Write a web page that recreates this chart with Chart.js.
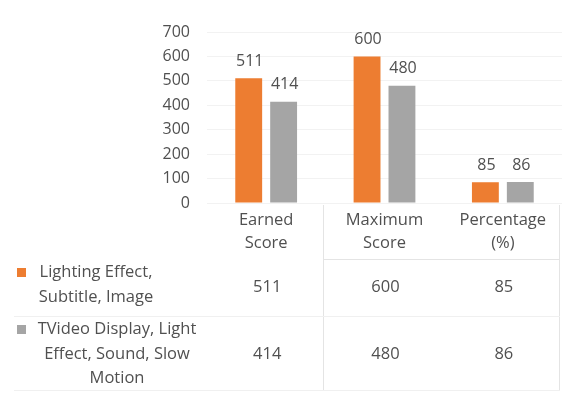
<!DOCTYPE html>
<html>
<head>
<meta charset="utf-8">
<script src="https://cdn.jsdelivr.net/npm/chart.js@4"></script>
<style>
  html, body { margin: 0; padding: 0; background: #fff; }
  #chart { display: block; }
</style>
</head>
<body>
<canvas id="chart" width="575" height="398"></canvas>
<script>
// chart data
const categories = [['Earned', 'Score'], ['Maximum', 'Score'], ['Percentage', '(%)']];
const seriesNames = [
    ['Lighting Effect,', 'Subtitle, Image'],
    ['TVideo Display, Light', 'Effect, Sound, Slow', 'Motion']
];
const lightingValues = [511, 600, 85];
const videoValues = [414, 480, 86];
const yMax = 700;
const yStep = 100;

const colors = ['#ED7D31', '#A5A5A5'];
const textColor = '#505050';
const fontFamily = '"Open Sans", Lato, sans-serif';

// value labels above each bar
const barLabels = {
    id: 'barLabels',
    afterDatasetsDraw(chart) {
        const ctx = chart.ctx;
        ctx.save();
        ctx.font = `16px ${fontFamily}`;
        ctx.fillStyle = textColor;
        ctx.textAlign = 'center';
        ctx.textBaseline = 'bottom';
        chart.data.datasets.forEach((ds, di) => {
            chart.getDatasetMeta(di).data.forEach((bar, i) => {
                ctx.fillText(ds.data[i], bar.x + 1, bar.y - 9);
            });
        });
        ctx.restore();
    }
};

// data table under the axis
const dataTable = {
    id: 'dataTable',
    afterDraw(chart) {
        const ctx = chart.ctx;
        const x = chart.scales.x;
        const area = chart.chartArea;
        const rowTops = [259, 316];
        const rowBottom = 390;
        const colEdge = 323;

        ctx.save();
        ctx.strokeStyle = '#e4e4e4';
        ctx.lineWidth = 1;
        ctx.beginPath();
        ctx.moveTo(colEdge + 0.5, area.bottom + 2);
        ctx.lineTo(colEdge + 0.5, rowBottom);
        ctx.moveTo(area.right - 2.5, area.bottom + 2);
        ctx.lineTo(area.right - 2.5, rowBottom);
        ctx.moveTo(colEdge, rowTops[0] + 0.5);
        ctx.lineTo(area.right - 2, rowTops[0] + 0.5);
        ctx.stroke();

        ctx.strokeStyle = '#f0f0f0';
        ctx.beginPath();
        ctx.moveTo(14, rowTops[1] + 0.5);
        ctx.lineTo(area.right - 2, rowTops[1] + 0.5);
        ctx.moveTo(14, rowBottom + 0.5);
        ctx.lineTo(area.right - 2, rowBottom + 0.5);
        ctx.stroke();

        ctx.font = `16.5px ${fontFamily}`;
        ctx.fillStyle = textColor;
        ctx.textBaseline = 'middle';

        // row headers with legend keys
        const rowLines = [[272, 297], [329, 354, 378]];
        const rowCenters = [96, 117];
        seriesNames.forEach((lines, r) => {
            ctx.textAlign = 'center';
            lines.forEach((line, li) => {
                ctx.fillText(line, rowCenters[r], rowLines[r][li]);
            });
            ctx.fillStyle = colors[r];
            ctx.fillRect(17, rowLines[r][0] - 4, 9, 9);
            ctx.fillStyle = textColor;
        });

        // values
        const rowValueY = [287, 354];
        ctx.textAlign = 'center';
        chart.data.datasets.forEach((ds, di) => {
            ds.data.forEach((v, i) => {
                ctx.fillText(v, x.getPixelForValue(i) + 1, rowValueY[di]);
            });
        });
        ctx.restore();
    }
};

new Chart(document.getElementById('chart'), {
    type: 'bar',
    data: {
        labels: categories,
        datasets: [
            {
                label: seriesNames[0].join(' '),
                data: lightingValues,
                backgroundColor: colors[0],
                categoryPercentage: 0.59,
                barPercentage: 0.77
            },
            {
                label: seriesNames[1].join(' '),
                data: videoValues,
                backgroundColor: colors[1],
                categoryPercentage: 0.59,
                barPercentage: 0.77
            }
        ]
    },
    options: {
        responsive: false,
        animation: false,
        layout: { padding: { left: 0, right: 13, top: 32, bottom: 0 } },
        plugins: {
            legend: { display: false },
            tooltip: { enabled: false }
        },
        scales: {
            x: {
                grid: { display: false, drawTicks: false },
                border: { display: false },
                ticks: {
                    color: textColor,
                    font: { family: fontFamily, size: 16.5, lineHeight: 1.4 },
                    padding: 6,
                    maxRotation: 0
                },
                afterFit: (scale) => { scale.height = 195; }
            },
            y: {
                min: 0,
                max: yMax,
                grid: { color: '#f2f2f2', drawTicks: false },
                border: { display: false },
                ticks: {
                    stepSize: yStep,
                    color: textColor,
                    font: { family: fontFamily, size: 16 },
                    padding: 17
                },
                afterFit: (scale) => { scale.width = 207; }
            }
        }
    },
    plugins: [barLabels, dataTable]
});
</script>
</body>
</html>
